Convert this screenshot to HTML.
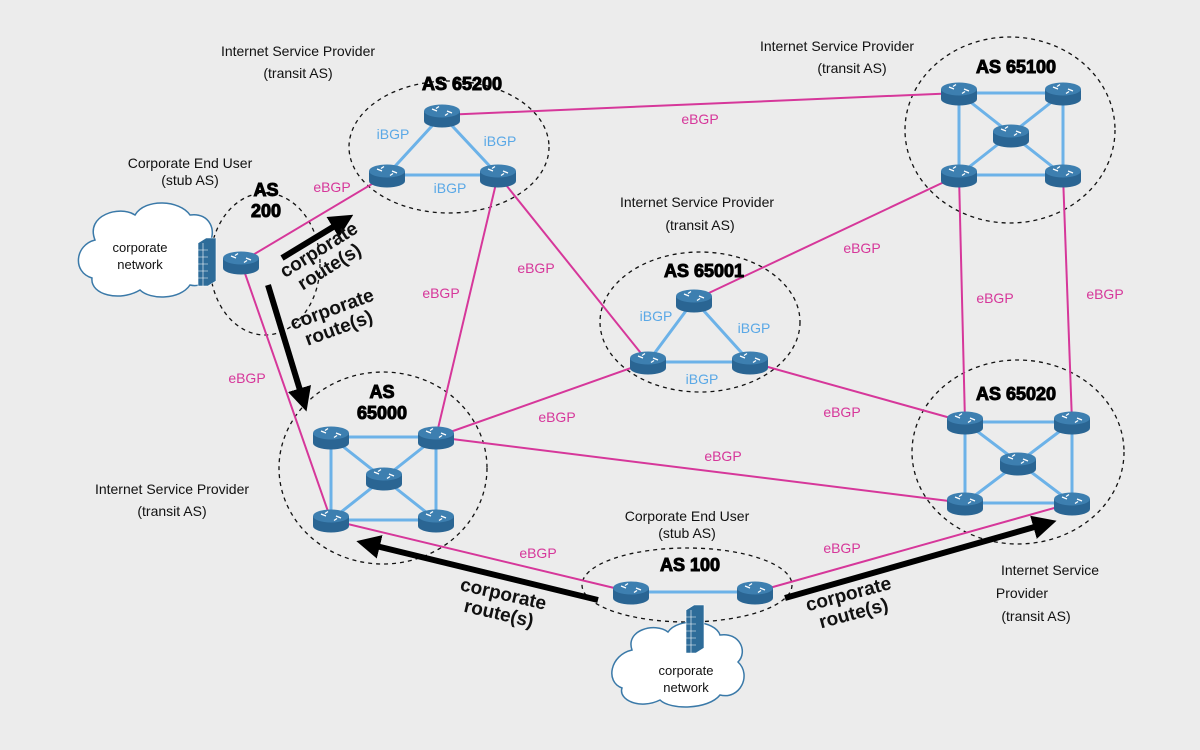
<!DOCTYPE html>
<html><head><meta charset="utf-8"><style>
html,body{margin:0;padding:0;background:#ececec;}
svg{display:block;font-family:"Liberation Sans",sans-serif;}
.lb{font-size:14px;fill:#111;text-anchor:middle;}
.as{font-size:18px;font-weight:bold;fill:#000;text-anchor:middle;stroke:#000;stroke-width:1px;}
.e{font-size:14px;fill:#d6379a;text-anchor:middle;}
.i{font-size:14px;fill:#5aa8e6;text-anchor:middle;}
.cr{font-size:19px;fill:#111;text-anchor:middle;font-weight:bold;}
.p{stroke:#d6379a;stroke-width:2;fill:none;}
.b{stroke:#6cb2e8;stroke-width:3;fill:none;}
.d{stroke:#111;stroke-width:1.3;stroke-dasharray:4 4;fill:none;}
.k{stroke:#000;stroke-width:6;fill:none;}
</style></head><body>
<svg width="1200" height="750" viewBox="0 0 1200 750">
<defs>
<g id="r">
<path d="M-18,-4 L-18,6 A18,6.5 0 0 0 18,6 L18,-4 Z" fill="#2a6593"/>
<ellipse cx="0" cy="-4" rx="18" ry="6.5" fill="#3d7fb0"/>
<path d="M-10,-6 l5,2 M10,-2 l-5,-2 M-3,-8.5 l-3,2 M3,0.5 l3,-2" stroke="#fff" stroke-width="1.3"/>
</g>
<marker id="ah" markerWidth="4" markerHeight="4" refX="2" refY="2" orient="auto" markerUnits="strokeWidth"><path d="M0,0 L4,2 L0,4 Z" fill="#000"/></marker>
</defs>

<ellipse class="d" cx="449" cy="147" rx="100" ry="66"/>
<ellipse class="d" cx="265" cy="264" rx="55" ry="71"/>
<ellipse class="d" cx="1010" cy="130" rx="105" ry="93"/>
<ellipse class="d" cx="700" cy="322" rx="100" ry="70"/>
<ellipse class="d" cx="383" cy="468" rx="104" ry="96"/>
<ellipse class="d" cx="1018" cy="452" rx="106" ry="92"/>
<ellipse class="d" cx="687" cy="585" rx="105" ry="37"/>

<path class="p" d="M241,262 L387,175"/>
<path class="p" d="M241,262 L331,520"/>
<path class="p" d="M442,115 L959,93"/>
<path class="p" d="M498,175 L436,437"/>
<path class="p" d="M498,175 L648,362"/>
<path class="p" d="M694,300 L959,175"/>
<path class="p" d="M648,362 L436,437"/>
<path class="p" d="M750,362 L965,422"/>
<path class="p" d="M436,437 L965,503"/>
<path class="p" d="M331,520 L631,592"/>
<path class="p" d="M755,592 L1072,503"/>
<path class="p" d="M959,175 L965,422"/>
<path class="p" d="M1063,175 L1072,422"/>

<path class="b" d="M442,115 L387,175 L498,175 Z"/>
<path class="b" d="M694,300 L648,362 L750,362 Z"/>
<path class="b" d="M631,592 L755,592"/>
<path class="b" d="M959,93 L1063,93 L1063,175 L959,175 Z M959,93 L1063,175 M1063,93 L959,175"/>
<path class="b" d="M331,437 L436,437 L436,520 L331,520 Z M331,437 L436,520 M436,437 L331,520"/>
<path class="b" d="M965,422 L1072,422 L1072,503 L965,503 Z M965,422 L1072,503 M1072,422 L965,503"/>

<use href="#r" x="442" y="115"/><use href="#r" x="387" y="175"/><use href="#r" x="498" y="175"/>
<use href="#r" x="241" y="262"/>
<use href="#r" x="959" y="93"/><use href="#r" x="1063" y="93"/><use href="#r" x="1011" y="135"/><use href="#r" x="959" y="175"/><use href="#r" x="1063" y="175"/>
<use href="#r" x="694" y="300"/><use href="#r" x="648" y="362"/><use href="#r" x="750" y="362"/>
<use href="#r" x="331" y="437"/><use href="#r" x="436" y="437"/><use href="#r" x="384" y="478"/><use href="#r" x="331" y="520"/><use href="#r" x="436" y="520"/>
<use href="#r" x="965" y="422"/><use href="#r" x="1072" y="422"/><use href="#r" x="1018" y="463"/><use href="#r" x="965" y="503"/><use href="#r" x="1072" y="503"/>
<use href="#r" x="631" y="592"/><use href="#r" x="755" y="592"/>

<path d="M95,240 C85,215 120,205 135,215 C145,198 180,200 190,215 C210,212 218,232 208,245 C222,262 210,290 190,285 C180,300 150,300 140,290 C120,302 90,295 92,278 C72,272 75,245 95,240 Z" fill="#fff" stroke="#3a79a8" stroke-width="1.5"/>
<text class="lb" x="140" y="252" style="font-size:13px">corporate</text>
<text class="lb" x="140" y="269" style="font-size:13px">network</text>
<path d="M632,650 C625,630 655,622 668,632 C678,617 715,620 720,635 C740,632 748,652 738,662 C752,675 740,700 720,695 C708,710 670,710 660,700 C640,710 618,700 622,688 C605,682 610,655 632,650 Z" fill="#fff" stroke="#3a79a8" stroke-width="1.5"/>
<text class="lb" x="686" y="675" style="font-size:13px">corporate</text>
<text class="lb" x="686" y="692" style="font-size:13px">network</text>
<g fill="#2e6c99" stroke="#fff" stroke-width="0.6">
<path d="M198,243 l8,-5 l10,0 l0,43 l-8,5 l-10,0 Z"/>
<path d="M198,250 h10 M198,257 h10 M198,264 h10 M198,271 h10 M198,278 h10 M203,243 v43"/>
<path d="M686,610 l8,-5 l10,0 l0,43 l-8,5 l-10,0 Z"/>
<path d="M686,617 h10 M686,624 h10 M686,631 h10 M686,638 h10 M686,645 h10 M691,610 v43"/>
</g>

<path class="k" d="M282,258 L343,221" marker-end="url(#ah)"/>
<path class="k" d="M268,285 L303,400" marker-end="url(#ah)"/>
<path class="k" d="M598,600 L368,544" marker-end="url(#ah)"/>
<path class="k" d="M785,598 L1045,524" marker-end="url(#ah)"/>

<text class="as" x="462" y="90">AS 65200</text>
<text class="as" x="266" y="196">AS</text>
<text class="as" x="266" y="217">200</text>
<text class="as" x="1016" y="73">AS 65100</text>
<text class="as" x="704" y="277">AS 65001</text>
<text class="as" x="382" y="398">AS</text>
<text class="as" x="382" y="419">65000</text>
<text class="as" x="1016" y="400">AS 65020</text>
<text class="as" x="690" y="571">AS 100</text>

<text class="lb" x="298" y="56">Internet Service Provider</text>
<text class="lb" x="298" y="78">(transit AS)</text>
<text class="lb" x="837" y="51">Internet Service Provider</text>
<text class="lb" x="852" y="73">(transit AS)</text>
<text class="lb" x="190" y="168">Corporate End User</text>
<text class="lb" x="190" y="185">(stub AS)</text>
<text class="lb" x="697" y="207">Internet Service Provider</text>
<text class="lb" x="700" y="230">(transit AS)</text>
<text class="lb" x="172" y="494">Internet Service Provider</text>
<text class="lb" x="172" y="516">(transit AS)</text>
<text class="lb" x="687" y="521">Corporate End User</text>
<text class="lb" x="687" y="538">(stub AS)</text>
<text class="lb" x="1050" y="575">Internet Service</text>
<text class="lb" x="1022" y="598">Provider</text>
<text class="lb" x="1036" y="621">(transit AS)</text>

<text class="i" x="393" y="139">iBGP</text>
<text class="i" x="500" y="146">iBGP</text>
<text class="i" x="450" y="193">iBGP</text>
<text class="i" x="656" y="321">iBGP</text>
<text class="i" x="754" y="333">iBGP</text>
<text class="i" x="702" y="384">iBGP</text>

<text class="e" x="332" y="192">eBGP</text>
<text class="e" x="700" y="124">eBGP</text>
<text class="e" x="441" y="298">eBGP</text>
<text class="e" x="536" y="273">eBGP</text>
<text class="e" x="862" y="253">eBGP</text>
<text class="e" x="247" y="383">eBGP</text>
<text class="e" x="557" y="422">eBGP</text>
<text class="e" x="842" y="417">eBGP</text>
<text class="e" x="723" y="461">eBGP</text>
<text class="e" x="538" y="558">eBGP</text>
<text class="e" x="842" y="553">eBGP</text>
<text class="e" x="995" y="303">eBGP</text>
<text class="e" x="1105" y="299">eBGP</text>

<g transform="translate(322,255) rotate(-32)"><text class="cr" x="0" y="0">corporate</text><text class="cr" x="0" y="20">route(s)</text></g>
<g transform="translate(334,315) rotate(-20)"><text class="cr" x="0" y="0">corporate</text><text class="cr" x="0" y="20">route(s)</text></g>
<g transform="translate(502,600) rotate(13)"><text class="cr" x="0" y="0">corporate</text><text class="cr" x="0" y="20">route(s)</text></g>
<g transform="translate(850,600) rotate(-15)"><text class="cr" x="0" y="0">corporate</text><text class="cr" x="0" y="20">route(s)</text></g>
</svg>
</body></html>
